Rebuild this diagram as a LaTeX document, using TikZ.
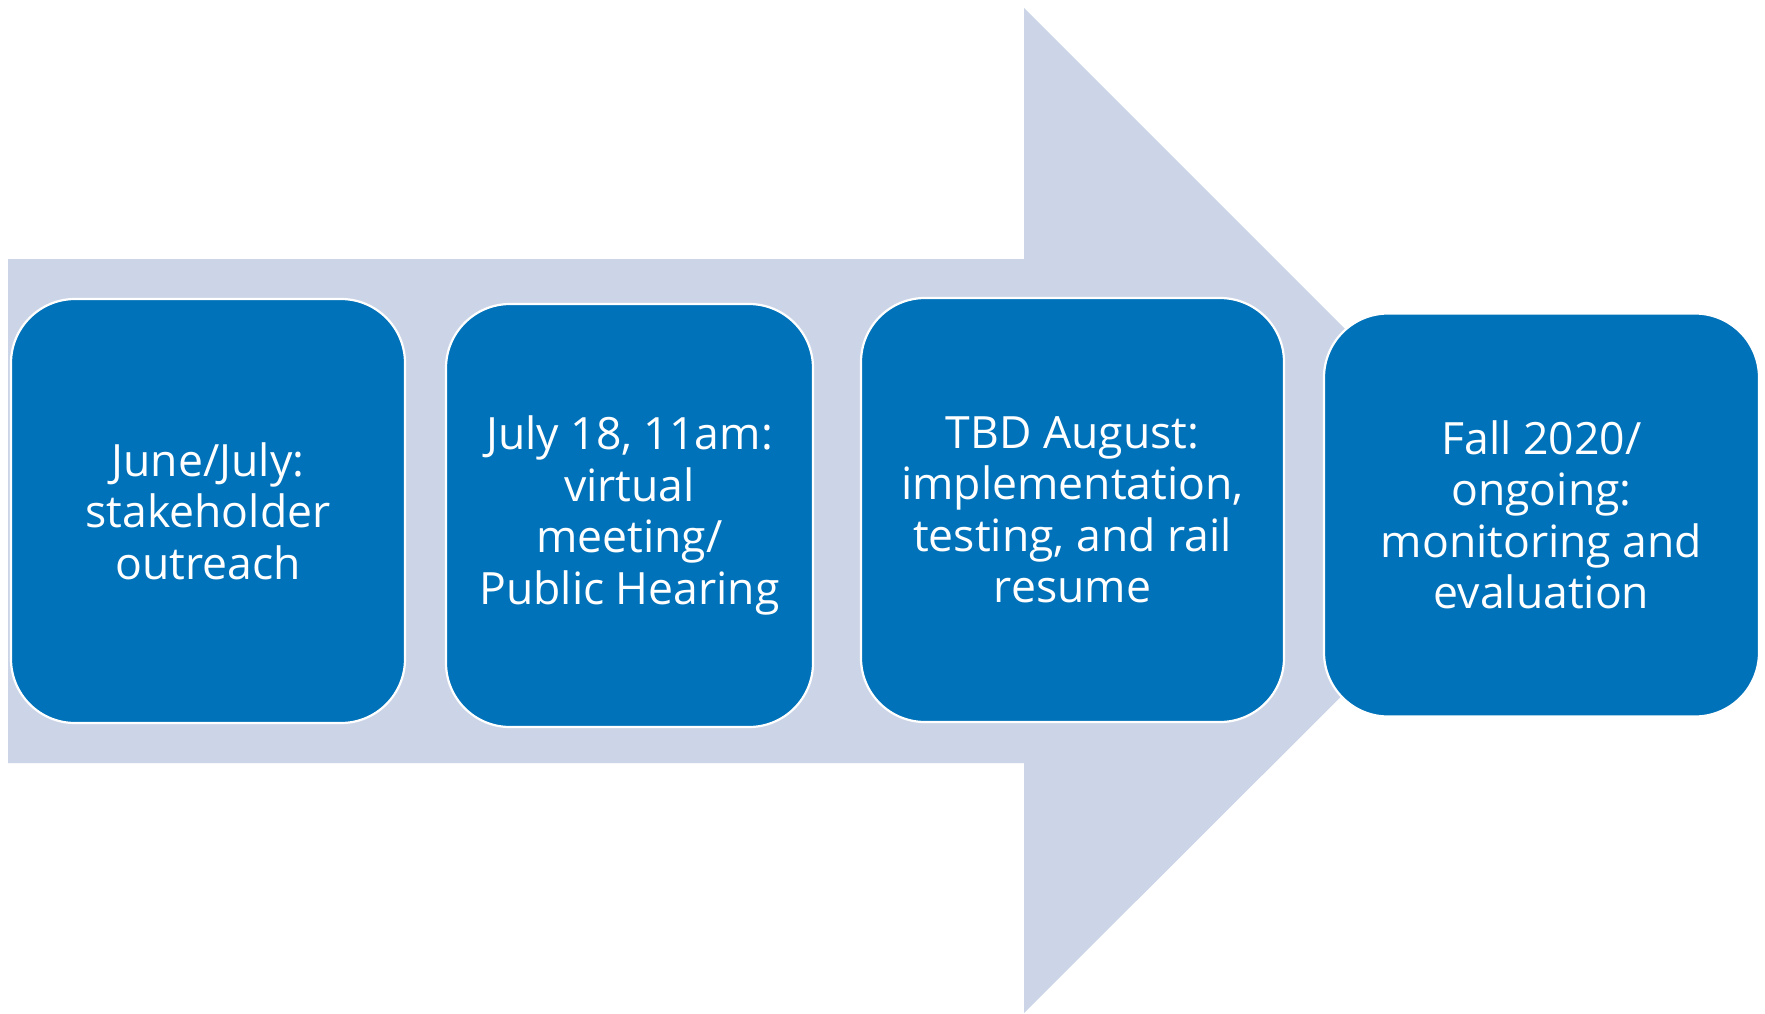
\documentclass[tikz,border=0pt]{standalone}
\usepackage{fontspec}
\setmainfont{Open Sans}
\definecolor{arrowfill}{RGB}{204,213,231}
\definecolor{boxblue}{RGB}{0,114,185}
\begin{document}
\begin{tikzpicture}[x=1pt,y=-1pt,
  stagebox/.style={draw=white, line width=2.2pt, fill=boxblue, rounded corners=64pt,
    text=white, align=center, inner sep=0pt,
    font=\fontsize{44.5}{51.5}\selectfont}]
\useasboundingbox (0,0) rectangle (1765,1013);
\fill[white] (0,0) rectangle (1765,1013);
% big arrow
\fill[arrowfill] (8,259) -- (1024,259) -- (1024,8) -- (1527,511) -- (1024,1013) -- (1024,763) -- (8,763) -- cycle;
% stages
\node[stagebox, minimum width=394pt, minimum height=424pt] (s1) at (208,511) {June/July:\\stakeholder\\outreach};
\node[stagebox, minimum width=367pt, minimum height=423pt] (s2) at (629.5,515.5) {July 18, 11am:\\virtual\\meeting/\\Public Hearing};
\node[stagebox, minimum width=423pt, minimum height=424pt] (s3) at (1072.5,510) {TBD August:\\implementation,\\testing, and rail\\resume};
\node[stagebox, minimum width=435pt, minimum height=403pt] (s4) at (1541.5,515) {Fall 2020/\\ongoing:\\monitoring and\\evaluation};
\end{tikzpicture}
\end{document}
